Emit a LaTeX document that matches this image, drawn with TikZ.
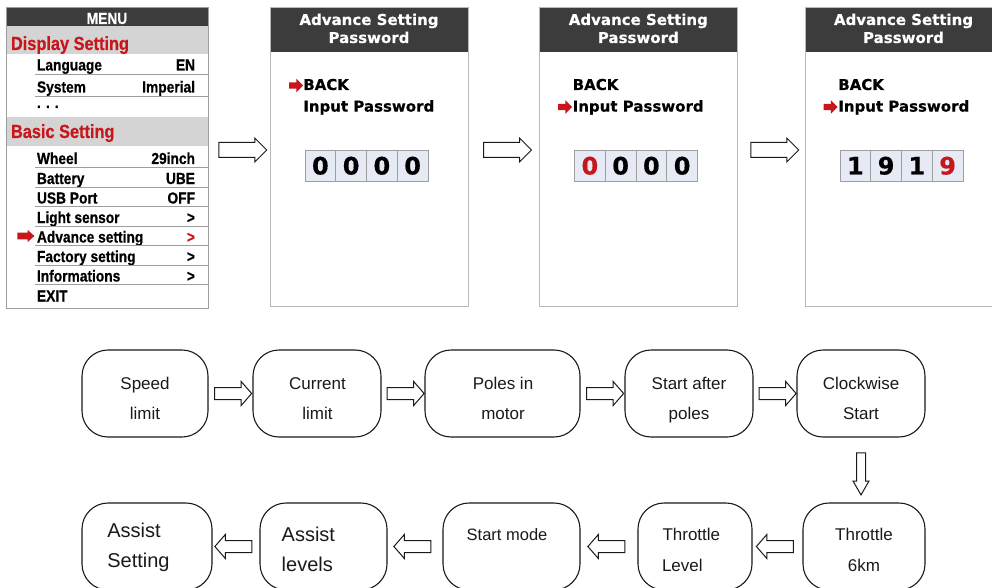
\documentclass[tikz,border=0pt]{standalone}
\usepackage{fontspec}
\setmainfont{Liberation Sans}
\newfontfamily\narrowfont[FakeStretch=0.86,BoldFeatures={FakeBold=0.6}]{Liberation Sans}
\newfontfamily\widefont[BoldFeatures={FakeBold=0.4}]{DejaVu Sans}
\usetikzlibrary{shapes.arrows}
\definecolor{hdr}{HTML}{3C3C3C}
\definecolor{band}{HTML}{D4D4D4}
\definecolor{mred}{HTML}{C8161D}
\definecolor{cellc}{HTML}{E6EAF4}
\definecolor{rulec}{HTML}{9E9E9E}
\definecolor{panelc}{HTML}{B8B8B8}
\definecolor{ink}{HTML}{1A1A1A}
\begin{document}
\begin{tikzpicture}[x=1pt,y=-1pt,
  every node/.style={inner sep=0pt, outer sep=0pt},
  mfont/.style={font=\narrowfont\bfseries\fontsize{16}{16}\selectfont},
  mitem/.style={mfont, anchor=base west},
  mval/.style={mfont, anchor=base east},
  mhead/.style={font=\narrowfont\bfseries\fontsize{19}{19}\selectfont, text=mred, anchor=base west},
  ptext/.style={font=\widefont\bfseries\fontsize{15}{15}\selectfont, anchor=base west},
  phead/.style={font=\widefont\bfseries\fontsize{15}{15}\selectfont, text=white, anchor=base},
  panel/.style={draw=panelc, line width=0.9pt, minimum width=#1, minimum height=299pt, anchor=north west},
  cell/.style={draw=rulec, line width=0.6pt, fill=cellc, minimum width=30.75pt, minimum height=30.5pt, anchor=north west,
    font=\widefont\bfseries\fontsize{24}{24}\selectfont},
  rulel/.style={draw=rulec, line width=0.7pt},
  box/.style={draw=ink, line width=1.1pt, rounded corners=26pt, minimum height=87pt, minimum width=#1, anchor=north west},
  btext/.style={font=\fontsize{17}{17}\selectfont, text=ink, anchor=base},
  btextl/.style={font=\fontsize{17}{17}\selectfont, text=ink, anchor=base west},
  bigtext/.style={font=\fontsize{20}{20}\selectfont, text=ink, anchor=base west},
  blockarrow/.style={single arrow, draw=ink, line width=1pt, fill=white, inner xsep=0pt, minimum width=0pt, single arrow head indent=0pt},
  tarrow/.style={blockarrow, inner ysep=7pt, single arrow head extend=4.5pt, single arrow tip angle=90, minimum height=48pt},
  rarrow/.style={blockarrow, inner ysep=5.5pt, single arrow head extend=6pt, single arrow tip angle=98, minimum height=37pt},
  darrow/.style={blockarrow, inner ysep=4pt, single arrow head extend=3.5pt, single arrow tip angle=60, minimum height=42pt, rotate=-90},
  redarrow/.style={single arrow, fill=mred, inner xsep=0pt, minimum width=0pt, single arrow head indent=0pt, inner ysep=3pt,
    single arrow head extend=3.6pt, single arrow tip angle=90, minimum height=14pt},
]
\useasboundingbox (0,0) rectangle (992,588);
\clip (0,0) rectangle (992,588);
\fill[white] (0,0) rectangle (992,588);

% ---------------- MENU ----------------
\fill[hdr] (6,7) rectangle (208,26);
\fill[band] (6,26) rectangle (208,54);
\fill[band] (6,117) rectangle (208,146);
\node[draw=rulec, line width=0.8pt, minimum width=202pt, minimum height=301pt, anchor=north west] (menu) at (6,7) {};
\node[font=\narrowfont\bfseries\fontsize{16}{16}\selectfont, text=white, anchor=base] (menuT) at (107,24) {MENU};
\node[mhead] (disp) at (11,50) {Display Setting};
\node[mhead] (basic) at (11,138) {Basic Setting};

\node[mitem] (lang) at (37,70.5) {Language};   \node[mval] (langv) at (195,70.5) {EN};
\draw[rulel] (35,74) -- (208,74);
\node[mitem] (sys) at (37,92.5) {System};      \node[mval] (sysv) at (195,92.5) {Imperial};
\draw[rulel] (35,96) -- (208,96);
\node[mitem] (dots) at (37,108) {. . .};

\node[mitem] (wheel) at (37,164) {Wheel};      \node[mval] (wheelv) at (195,164) {29inch};
\draw[rulel] (35,167) -- (208,167);
\node[mitem] (batt) at (37,184) {Battery};   \node[mval] (battv) at (195,184) {UBE};
\draw[rulel] (35,187) -- (208,187);
\node[mitem] (usb) at (37,203.5) {USB Port};     \node[mval] (usbv) at (195,203.5) {OFF};
\draw[rulel] (35,206.5) -- (208,206.5);
\node[mitem] (light) at (37,223) {Light sensor}; \node[mval] (lightv) at (195,223) {>};
\draw[rulel] (35,226) -- (208,226);
\node[mitem] (adv) at (37,242.5) {Advance setting}; \node[mval, text=mred] (advv) at (195,242.5) {>};
\draw[rulel] (35,245.5) -- (208,245.5);
\node[mitem] (fact) at (37,262) {Factory setting}; \node[mval] (factv) at (195,262) {>};
\draw[rulel] (35,265) -- (208,265);
\node[mitem] (info) at (37,281.5) {Informations}; \node[mval] (infov) at (195,281.5) {>};
\draw[rulel] (35,284.5) -- (208,284.5);
\node[mitem] (exit) at (37,301.5) {EXIT};
\node[single arrow, fill=mred, inner xsep=0pt, minimum width=0pt, single arrow head indent=0pt, inner ysep=3.2pt,
  single arrow head extend=2.6pt, single arrow tip angle=84, minimum height=17pt] (marr) at (24,236) {};

% ---------------- PANEL 1 ----------------
\fill[hdr] (270,7) rectangle (468,52);
\node[panel=198pt] (p1) at (270,7) {};
\node[phead] (p1h1) at (369,25) {Advance Setting};
\node[phead] (p1h2) at (369,43) {Password};
\node[redarrow] (p1arr) at (294.5,85.5) {};
\node[ptext] (p1back) at (303.3,90) {BACK};
\node[ptext] (p1in) at (303.3,111.6) {Input Password};
\node[cell] (p1c1) at (305,150.5) {0};
\node[cell] (p1c2) at (335.75,150.5) {0};
\node[cell] (p1c3) at (366.5,150.5) {0};
\node[cell] (p1c4) at (397.25,150.5) {0};

% ---------------- PANEL 2 ----------------
\fill[hdr] (539.5,7) rectangle (737,52);
\node[panel=197.5pt] (p2) at (539.5,7) {};
\node[phead] (p2h1) at (638.3,25) {Advance Setting};
\node[phead] (p2h2) at (638.3,43) {Password};
\node[redarrow] (p2arr) at (563.5,107) {};
\node[ptext] (p2back) at (572.7,90) {BACK};
\node[ptext] (p2in) at (572.7,111.6) {Input Password};
\node[cell, text=mred] (p2c1) at (574.5,150.5) {0};
\node[cell] (p2c2) at (605.25,150.5) {0};
\node[cell] (p2c3) at (636,150.5) {0};
\node[cell] (p2c4) at (666.75,150.5) {0};

% ---------------- PANEL 3 ----------------
\fill[hdr] (805,7) rectangle (1000,52);
\node[panel=195pt] (p3) at (805,7) {};
\node[phead] (p3h1) at (903.5,25) {Advance Setting};
\node[phead] (p3h2) at (903.5,43) {Password};
\node[redarrow] (p3arr) at (829,107) {};
\node[ptext] (p3back) at (838.3,90) {BACK};
\node[ptext] (p3in) at (838.3,111.6) {Input Password};
\node[cell] (p3c1) at (840,150.5) {1};
\node[cell] (p3c2) at (870.75,150.5) {9};
\node[cell] (p3c3) at (901.5,150.5) {1};
\node[cell, text=mred] (p3c4) at (932.25,150.5) {9};

% top connectors
\path (menu.east |- 0,150) -- (p1.west |- 0,150) node[midway, tarrow] (ta1) {};
\path (p1.east |- 0,150) -- (p2.west |- 0,150) node[midway, tarrow] (ta2) {};
\path (p2.east |- 0,150) -- (p3.west |- 0,150) node[midway, tarrow] (ta3) {};

% ---------------- FLOW ----------------
\node[box=126pt] (speed) at (82,350) {};
\node[box=128pt] (current) at (253,350) {};
\node[box=155pt] (poles) at (425,350) {};
\node[box=128pt] (startafter) at (625,350) {};
\node[box=128pt] (clockwise) at (797,350) {};

\node[box=122pt] (throttle6) at (803,503) {};
\node[box=114pt] (throttleL) at (638,503) {};
\node[box=137pt] (startmode) at (443,503) {};
\node[box=127pt] (assistL) at (260,503) {};
\node[box=130pt] (assistS) at (82,503) {};

\node[btext] (t1a) at (145,389) {Speed};
\node[btext] (t1b) at (145,419.5) {limit};
\node[btext] (t2a) at (317.5,389) {Current};
\node[btext] (t2b) at (317.5,419.5) {limit};
\node[btext] (t3a) at (503,389) {Poles in};
\node[btext] (t3b) at (503,419.5) {motor};
\node[btext] (t4a) at (689,389) {Start after};
\node[btext] (t4b) at (689,419.5) {poles};
\node[btext] (t5a) at (861,389) {Clockwise};
\node[btext] (t5b) at (861,419.5) {Start};

\node[btext] (t6a) at (864,540) {Throttle};
\node[btext] (t6b) at (864,571) {6km};
\node[btextl] (t7a) at (662.5,540) {Throttle};
\node[btextl] (t7b) at (662,571) {Level};
\node[font=\fontsize{16.5}{16.5}\selectfont, text=ink, anchor=base west] (t8) at (466.7,540) {Start mode};
\node[bigtext] (t9a) at (281.7,541.7) {Assist};
\node[bigtext] (t9b) at (281.7,571.7) {levels};
\node[bigtext] (t10a) at (107.3,537.7) {Assist};
\node[bigtext] (t10b) at (107.3,567) {Setting};

% flow connectors
\path (speed.east) -- (current.west) node[midway, rarrow] (a1) {};
\path (current.east) -- (poles.west) node[midway, rarrow] (a2) {};
\path (poles.east) -- (startafter.west) node[midway, rarrow] (a3) {};
\path (startafter.east) -- (clockwise.west) node[midway, rarrow] (a4) {};
\path (clockwise.south) -- (throttle6.north -| clockwise.south) node[midway, darrow] (a5) {};
\path (throttle6.west) -- (throttleL.east) node[midway, rarrow, rotate=180] (a6) {};
\path (throttleL.west) -- (startmode.east) node[midway, rarrow, rotate=180] (a7) {};
\path (startmode.west) -- (assistL.east) node[midway, rarrow, rotate=180] (a8) {};
\path (assistL.west) -- (assistS.east) node[midway, rarrow, rotate=180] (a9) {};
\end{tikzpicture}
\end{document}
